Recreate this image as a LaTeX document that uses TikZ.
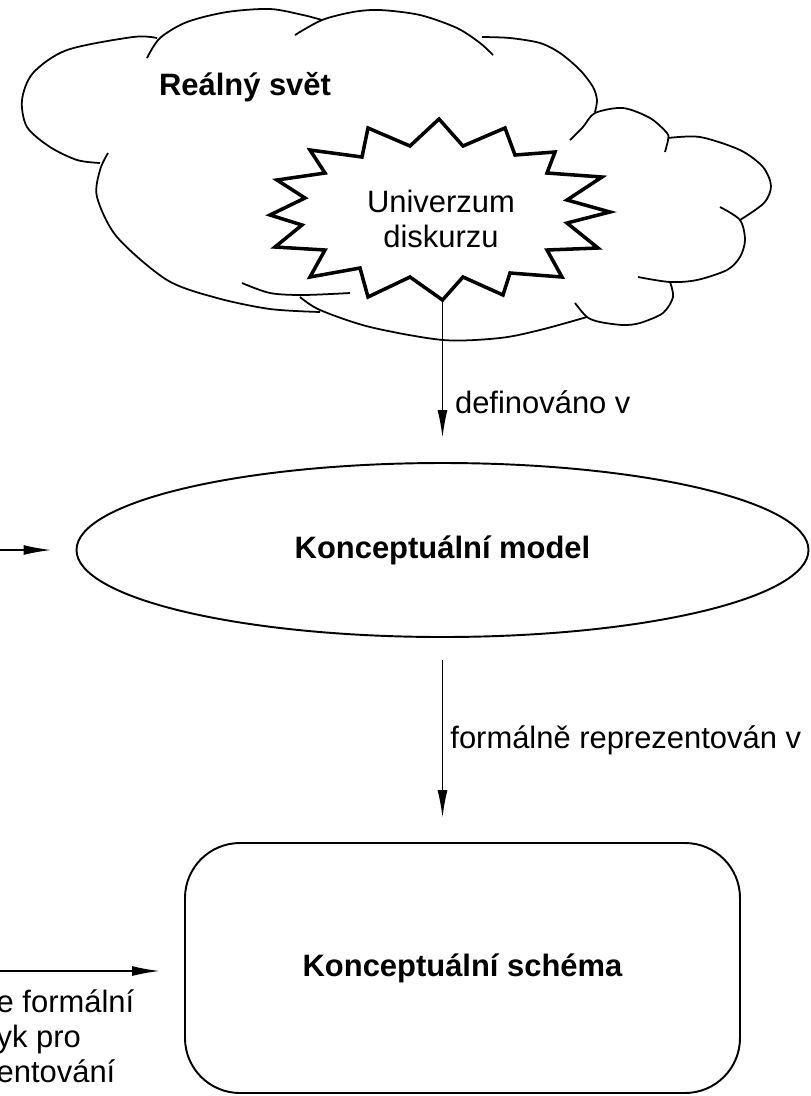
\documentclass[tikz,border=0pt]{standalone}
\usepackage{fontspec}
\setmainfont{Liberation Sans}
\usepackage{tikz}
\usetikzlibrary{arrows.meta, shapes.geometric}

\begin{document}
\begin{tikzpicture}[
    every node/.style={font=\fontsize{8.8}{9.9}\selectfont},
    lobe/.style={line width=0.5pt},
    burst/.style={line width=1pt, fill=white, line join=miter},
    conn/.style={line width=0.5pt, -{Latex[length=2.8mm,width=1mm]}, shorten >=0.24cm},
    title/.style={font=\fontsize{8.8}{9.9}\selectfont\bfseries}
  ]
\useasboundingbox (0,0) rectangle (8.11,-10.96);

% real world cloud
\draw[lobe] plot[smooth] coordinates {(1.57,-0.38) (1.33,-0.37) (0.67,-0.50) (0.33,-0.73) (0.22,-1.00) (0.27,-1.27) (0.50,-1.47) (0.77,-1.60) (1.00,-1.63)};
\draw[lobe] plot[smooth] coordinates {(1.47,-0.58) (1.60,-0.38) (1.87,-0.22) (2.27,-0.12) (2.70,-0.09) (3.03,-0.15) (3.22,-0.20)};
\draw[lobe] plot[smooth] coordinates {(2.95,-0.35) (3.22,-0.20) (3.53,-0.12) (3.80,-0.10) (4.20,-0.15) (4.57,-0.28) (4.80,-0.43) (4.93,-0.55)};
\draw[lobe] plot[smooth] coordinates {(4.82,-0.37) (5.10,-0.38) (5.40,-0.43) (5.60,-0.53) (5.80,-0.70) (5.93,-0.87) (5.97,-1.00) (5.95,-1.12)};
\draw[lobe] plot[smooth] coordinates {(5.70,-1.40) (5.83,-1.27) (5.95,-1.13) (6.23,-1.08) (6.50,-1.18) (6.67,-1.33) (6.68,-1.40) (6.65,-1.52)};
\draw[lobe] plot[smooth] coordinates {(6.68,-1.38) (7.00,-1.37) (7.40,-1.50) (7.63,-1.67) (7.71,-1.86) (7.64,-2.03) (7.40,-2.20)};
\draw[lobe] plot[smooth] coordinates {(7.20,-2.07) (7.40,-2.20) (7.45,-2.40) (7.40,-2.57) (7.27,-2.70) (6.97,-2.80) (6.70,-2.82) (6.38,-2.77)};
\draw[lobe] plot[smooth] coordinates {(6.70,-2.82) (6.73,-2.97) (6.63,-3.13) (6.40,-3.23) (6.23,-3.25) (6.00,-3.22) (5.87,-3.17) (5.75,-3.03)};
\draw[lobe] plot[smooth] coordinates {(3.00,-2.97) (3.20,-3.10) (3.70,-3.27) (4.43,-3.40) (5.00,-3.38) (5.40,-3.30) (5.87,-3.17)};
\draw[lobe] plot[smooth] coordinates {(1.08,-1.53) (1.00,-1.70) (0.97,-1.97) (1.17,-2.37) (1.67,-2.80) (2.17,-2.98) (2.70,-3.09) (3.20,-3.12)};
\draw[lobe] plot[smooth] coordinates {(2.42,-2.83) (2.70,-2.93) (3.03,-2.95) (3.50,-2.93)};
\node[title] (world) at (2.45,-0.87) {Reálný svět};

% universe of discourse
\draw[burst] (4.39,-1.19) -- (4.63,-1.46) -- (5.05,-1.28) -- (5.15,-1.55) -- (5.55,-1.52) -- (5.47,-1.73)
  -- (6.02,-1.77) -- (5.67,-2.00) -- (6.10,-2.12) -- (5.67,-2.23) -- (5.98,-2.48) -- (5.47,-2.50)
  -- (5.62,-2.77) -- (5.10,-2.73) -- (5.03,-2.95) -- (4.63,-2.77) -- (4.425,-3.00) -- (4.10,-2.77)
  -- (3.68,-2.97) -- (3.60,-2.68) -- (3.10,-2.77) -- (3.25,-2.50) -- (2.75,-2.47) -- (3.02,-2.25)
  -- (2.70,-2.15) -- (3.05,-1.98) -- (2.77,-1.80) -- (3.25,-1.73) -- (3.10,-1.50) -- (3.62,-1.57)
  -- (3.68,-1.28) -- (4.10,-1.46) -- cycle;
\node[align=center] (univ) at (4.41,-2.19) {Univerzum\\diskurzu};
\coordinate (univbot) at (4.425,-3.00);

\node[title, ellipse, draw, line width=0.55pt, minimum width=7.32cm, minimum height=1.74cm, inner sep=0pt] (model) at (4.425,-5.50) {Konceptuální model};
\node[title, draw, line width=0.55pt, rounded corners=0.55cm, minimum width=5.55cm, minimum height=2.50cm] (schema) at (4.625,-9.68) {Konceptuální schéma};

\coordinate (inmodel) at (0,-5.50);
\coordinate (inschema) at (0,-9.71);

\draw[conn] (univbot) -- (model.north) node[pos=0.63, right] (lbldef) {definováno v};
\draw[conn, shorten <=0.22cm] (model.south) -- (model.south |- schema.north) node[midway, right, inner sep=2pt] (lblrep) {formálně reprezentován v};
\draw[conn] (inmodel) -- (model.west);
\draw[conn] (inschema) -- (inschema -| schema.west);

\node[align=left, anchor=north west, inner sep=0pt] (lang) at (-0.04,-9.89) {e formální\\yk pro\\entování};
\end{tikzpicture}
\end{document}
